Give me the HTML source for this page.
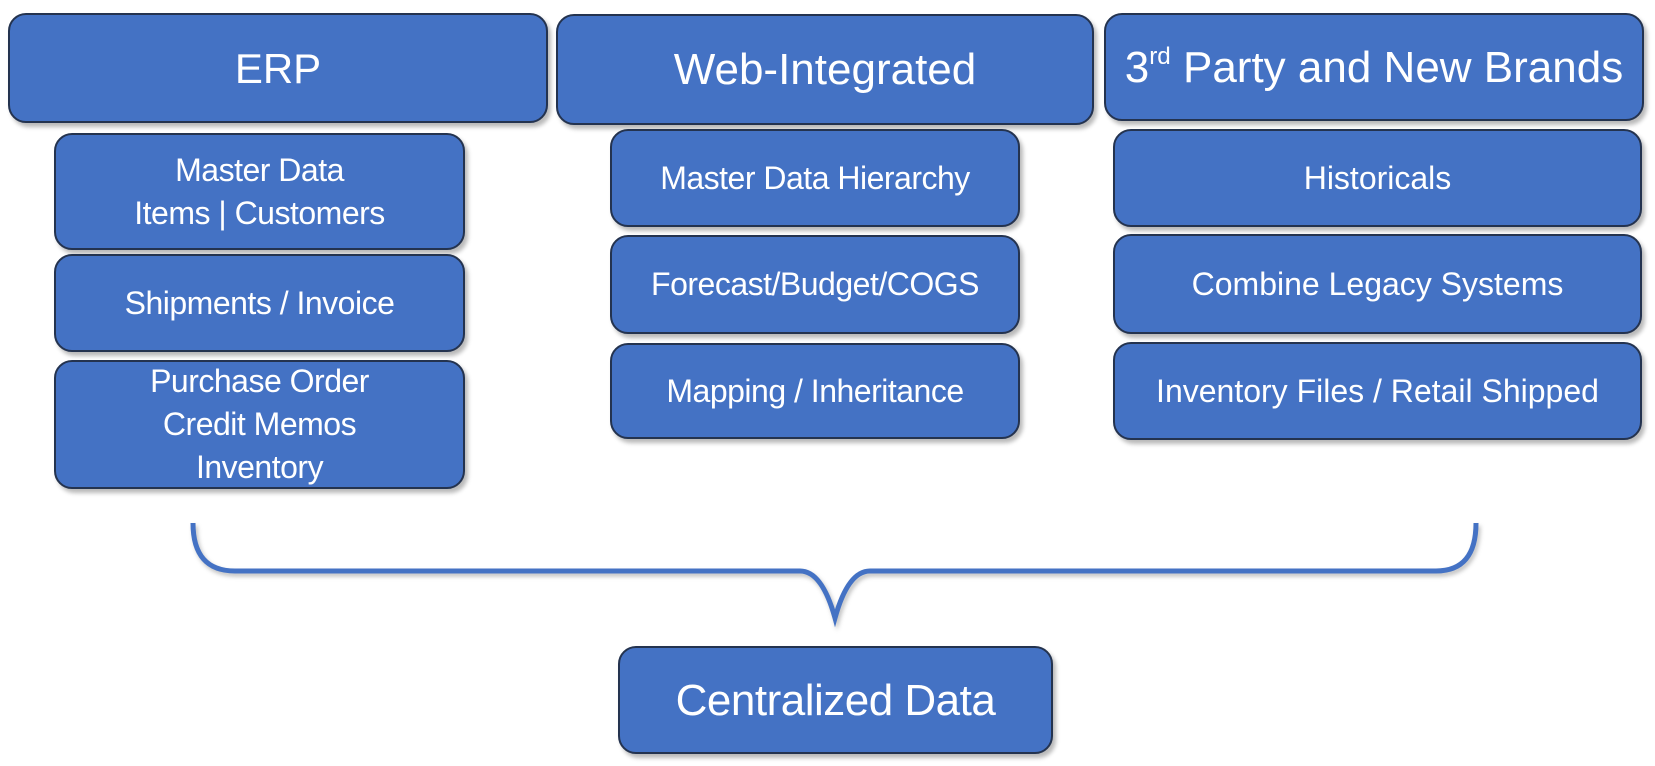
<!DOCTYPE html>
<html><head><meta charset="utf-8"><style>
html,body{margin:0;padding:0;background:#fff;}
body{width:1655px;height:766px;position:relative;overflow:hidden;font-family:"Liberation Sans","DejaVu Sans",sans-serif;}
.b{position:absolute;box-sizing:border-box;background:#4472C4;border:2px solid #24334f;border-radius:18px;color:#fff;display:flex;align-items:center;justify-content:center;text-align:center;box-shadow:3px 4px 4px rgba(0,0,0,0.28);line-height:43px;white-space:nowrap;}
.t{font-size:44px;}
.s{font-size:32px;}
.n{letter-spacing:-0.5px;}
sup{font-size:0.55em;vertical-align:0.75em;line-height:0;}
</style></head><body>
<div class="b t" style="left:8px;top:13px;width:540px;height:110px;font-size:42px;">ERP</div>
<div class="b t" style="left:556px;top:14px;width:538px;height:111px;">Web-Integrated</div>
<div class="b t" style="left:1104px;top:13px;width:540px;height:108px;"><span>3<sup>rd</sup> Party and New Brands</span></div>

<div class="b s n" style="left:54px;top:133px;width:411px;height:117px;">Master Data<br>Items | Customers</div>
<div class="b s n" style="left:54px;top:254px;width:411px;height:98px;">Shipments / Invoice</div>
<div class="b s n" style="left:54px;top:360px;width:411px;height:129px;">Purchase Order<br>Credit Memos<br>Inventory</div>

<div class="b s n" style="left:610px;top:129px;width:410px;height:98px;">Master Data Hierarchy</div>
<div class="b s n" style="left:610px;top:235px;width:410px;height:99px;">Forecast/Budget/COGS</div>
<div class="b s n" style="left:610px;top:343px;width:410px;height:96px;">Mapping / Inheritance</div>

<div class="b s" style="left:1113px;top:129px;width:529px;height:98px;">Historicals</div>
<div class="b s" style="left:1113px;top:234px;width:529px;height:100px;">Combine Legacy Systems</div>
<div class="b s" style="left:1113px;top:342px;width:529px;height:98px;">Inventory Files / Retail Shipped</div>

<svg style="position:absolute;left:0;top:0" width="1655" height="766">
<path d="M193 523 Q193 571 235 571 L800 571 Q822 571 835 618 Q848 571 870 571 L1436 571 Q1476 571 1476 523" fill="none" stroke="#4472C4" stroke-width="5" style="filter:drop-shadow(2px 3px 2px rgba(0,0,0,0.25))"/>
</svg>

<div class="b t n" style="left:618px;top:646px;width:435px;height:108px;">Centralized Data</div>
</body></html>
